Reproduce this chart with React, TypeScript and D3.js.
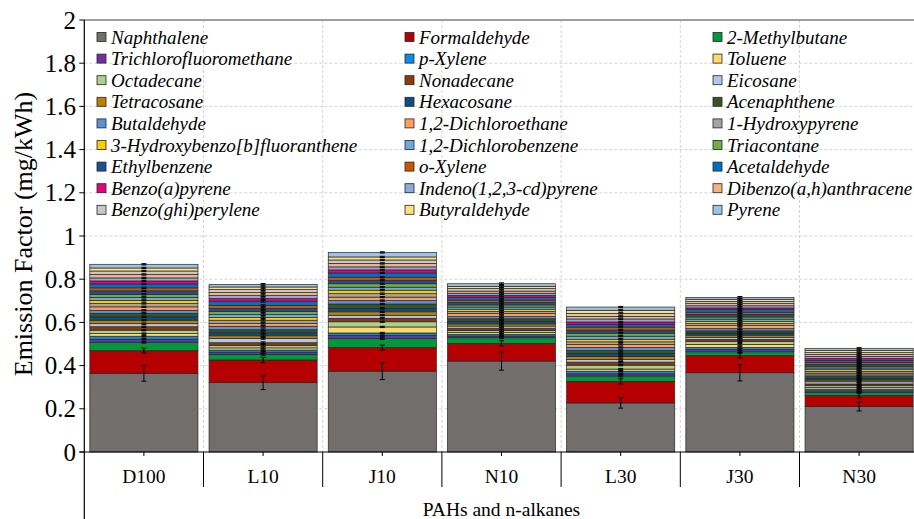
import React from "react";
import * as d3 from "d3";

const categories = ["D100", "L10", "J10", "N10", "L30", "J30", "N30"];
const groupLabel = "PAHs and n-alkanes";
const yTicks = [0, 0.2, 0.4, 0.6, 0.8, 1, 1.2, 1.4, 1.6, 1.8, 2];

const seriesNames = [
  "Naphthalene", "Formaldehyde", "2-Methylbutane",
  "Trichlorofluoromethane", "p-Xylene", "Toluene",
  "Octadecane", "Nonadecane", "Eicosane",
  "Tetracosane", "Hexacosane", "Acenaphthene",
  "Butaldehyde", "1,2-Dichloroethane", "1-Hydroxypyrene",
  "3-Hydroxybenzo[b]fluoranthene", "1,2-Dichlorobenzene", "Triacontane",
  "Ethylbenzene", "o-Xylene", "Acetaldehyde",
  "Benzo(a)pyrene", "Indeno(1,2,3-cd)pyrene", "Dibenzo(a,h)anthracene",
  "Benzo(ghi)perylene", "Butyraldehyde", "Pyrene",
];

const seriesColors = [
  "#736e6e", "#b40000", "#00993a",
  "#7030a0", "#0a8be6", "#ffd966",
  "#a9d08e", "#8b3a0e", "#b4c6e7",
  "#bf8000", "#0e4d7f", "#375623",
  "#5b8fd6", "#ff9e5e", "#a5a5a5",
  "#ffcc00", "#6caae0", "#70ad47",
  "#1f4e99", "#cc5500", "#0070c0",
  "#e6007e", "#8ea9db", "#f4b183",
  "#c8c8c8", "#ffe07a", "#9dc3e6",
];

// values per series for each category (D100, L10, J10, N10, L30, J30, N30)
const naphthalene = [0.364, 0.321, 0.374, 0.421, 0.227, 0.367, 0.210];
const formaldehyde = [0.105, 0.105, 0.109, 0.082, 0.100, 0.079, 0.052];
const methylbutane = [0.039, 0.026, 0.042, 0.026, 0.025, 0.018, 0.013];
const trichlorofluoromethane = [0.014, 0.010, 0.014, 0.008, 0.010, 0.010, 0.008];
const pXylene = [0.014, 0.010, 0.012, 0.008, 0.012, 0.010, 0.008];
const toluene = [0.012, 0.010, 0.028, 0.008, 0.010, 0.014, 0.008];
const octadecane = [0.016, 0.012, 0.024, 0.010, 0.018, 0.013, 0.008];
const nonadecane = [0.016, 0.012, 0.016, 0.010, 0.014, 0.010, 0.008];
const eicosane = [0.014, 0.020, 0.014, 0.010, 0.012, 0.010, 0.010];
const tetracosane = [0.016, 0.012, 0.016, 0.010, 0.014, 0.010, 0.008];
const hexacosane = [0.016, 0.014, 0.016, 0.012, 0.014, 0.010, 0.008];
const acenaphthene = [0.016, 0.014, 0.020, 0.012, 0.014, 0.010, 0.008];
const butaldehyde = [0.014, 0.016, 0.016, 0.010, 0.014, 0.010, 0.008];
const dichloroethane = [0.016, 0.014, 0.016, 0.014, 0.014, 0.014, 0.008];
const hydroxypyrene = [0.016, 0.014, 0.016, 0.010, 0.012, 0.010, 0.008];
const hydroxybenzofluoranthene = [0.014, 0.012, 0.016, 0.010, 0.012, 0.010, 0.008];
const dichlorobenzene = [0.014, 0.014, 0.014, 0.010, 0.014, 0.010, 0.008];
const triacontane = [0.014, 0.014, 0.016, 0.010, 0.014, 0.010, 0.008];
const ethylbenzene = [0.016, 0.014, 0.016, 0.012, 0.014, 0.012, 0.009];
const oXylene = [0.014, 0.014, 0.014, 0.010, 0.014, 0.010, 0.008];
const acetaldehyde = [0.018, 0.020, 0.020, 0.012, 0.012, 0.012, 0.009];
const benzoAPyrene = [0.014, 0.012, 0.014, 0.010, 0.012, 0.008, 0.010];
const indenoPyrene = [0.014, 0.014, 0.014, 0.010, 0.014, 0.010, 0.009];
const dibenzoAnthracene = [0.016, 0.014, 0.016, 0.010, 0.012, 0.010, 0.009];
const benzoGhiPerylene = [0.016, 0.014, 0.016, 0.012, 0.014, 0.010, 0.009];
const butyraldehyde = [0.014, 0.012, 0.014, 0.010, 0.014, 0.010, 0.010];
const pyrene = [0.017, 0.012, 0.021, 0.012, 0.015, 0.009, 0.010];

const seriesValues = [
  naphthalene, formaldehyde, methylbutane, trichlorofluoromethane, pXylene, toluene,
  octadecane, nonadecane, eicosane, tetracosane, hexacosane, acenaphthene,
  butaldehyde, dichloroethane, hydroxypyrene, hydroxybenzofluoranthene, dichlorobenzene, triacontane,
  ethylbenzene, oXylene, acetaldehyde, benzoAPyrene, indenoPyrene, dibenzoAnthracene,
  benzoGhiPerylene, butyraldehyde, pyrene,
];

// error bars (±)
const naphthaleneErr = [0.036, 0.032, 0.039, 0.042, 0.024, 0.038, 0.020];
const formaldehydeErr = [0.012, 0.012, 0.012, 0.012, 0.012, 0.012, 0.012];
const methylbutaneErr = [0.004, 0.004, 0.004, 0.004, 0.004, 0.004, 0.003];
const minorErr = [0.003, 0.004, 0.003, 0.004, 0.003, 0.004, 0.003];

const W = 914;
const H = 519;
const axisX = 84.3;
const plotTop = 20;
const plotBottom = 452;
const bandStep = 119.2;
const serif = "'Liberation Serif', 'Times New Roman', serif";

export default function App() {
  const x = d3
    .scaleBand<string>()
    .domain(categories)
    .range([axisX, axisX + bandStep * categories.length])
    .paddingInner(0.093)
    .paddingOuter(0.0465);
  const y = d3.scaleLinear().domain([0, 2]).range([plotBottom, plotTop]);

  const table = categories.map((c, ci) => {
    const row: any = { cat: c };
    seriesNames.forEach((s, si) => (row[s] = seriesValues[si][ci]));
    return row;
  });
  const stack = d3.stack<any>().keys(seriesNames)(table);

  const errFor = (si: number, ci: number) =>
    si === 0 ? naphthaleneErr[ci] : si === 1 ? formaldehydeErr[ci] : si === 2 ? methylbutaneErr[ci] : minorErr[ci];

  const bw = x.bandwidth();
  const bandEdges = categories.map((c) => (x(c) as number) - (x.step() * x.paddingInner()) / 2);
  const rightEdge = axisX + bandStep * categories.length;

  return (
    <svg width={W} height={H} style={{ position: "absolute", left: 0, top: 0, background: "#fff" }}>
      <rect x={0} y={0} width={W} height={H} fill="#fff" />
      {yTicks.slice(1, -1).map((t) => (
        <line key={"hg" + t} x1={axisX} x2={rightEdge} y1={y(t)} y2={y(t)} stroke="#d4d4d4" strokeWidth={1} strokeDasharray="3,2" />
      ))}
      {bandEdges.slice(1).map((bx, i) => (
        <line key={"vg" + i} x1={bx} x2={bx} y1={plotTop} y2={plotBottom} stroke="#d4d4d4" strokeWidth={1} strokeDasharray="3,2" />
      ))}
      <line x1={axisX} x2={rightEdge} y1={plotTop} y2={plotTop} stroke="#7f7f7f" strokeWidth={1.6} />

      {stack.map((layer, si) => (
        <g key={"s" + si}>
          {layer.map((d, ci) => (
            <rect key={ci} x={x(categories[ci])} y={y(d[1])} width={bw}
              height={Math.max(0, y(d[0]) - y(d[1]))} fill={seriesColors[si]} stroke="#262626" strokeWidth={0.7} />
          ))}
        </g>
      ))}
      {stack.map((layer, si) => (
        <g key={"e" + si}>
          {layer.map((d, ci) => {
            const cx = (x(categories[ci]) as number) + bw / 2;
            const e = errFor(si, ci);
            const y1 = y(d[1] + e);
            const y2 = y(d[1] - e);
            return (
              <g key={ci} stroke="#000" strokeWidth={1}>
                <line x1={cx} x2={cx} y1={y1} y2={y2} />
                <line x1={cx - 2.5} x2={cx + 2.5} y1={y1} y2={y1} />
                <line x1={cx - 2.5} x2={cx + 2.5} y1={y2} y2={y2} />
              </g>
            );
          })}
        </g>
      ))}

      <line x1={axisX} x2={axisX} y1={plotTop} y2={H} stroke="#000" strokeWidth={1.2} />
      {yTicks.map((t) => (
        <g key={"yt" + t}>
          <line x1={axisX - 5} x2={axisX} y1={y(t)} y2={y(t)} stroke="#000" strokeWidth={1} />
          <text x={76} y={y(t)} dy="0.34em" textAnchor="end" fontFamily={serif} fontSize={25} fill="#000">
            {d3.format("~g")(t)}
          </text>
        </g>
      ))}
      <text transform="translate(32,234) rotate(-90)" textAnchor="middle" fontFamily={serif} fontSize={26} fill="#000">
        Emission Factor (mg/kWh)
      </text>

      <line x1={axisX - 5} x2={rightEdge} y1={plotBottom} y2={plotBottom} stroke="#000" strokeWidth={1.2} />
      {categories.map((c) => {
        const cx = (x(c) as number) + bw / 2;
        return (
          <g key={"xt" + c}>
            <line x1={cx} x2={cx} y1={plotBottom} y2={plotBottom + 4} stroke="#000" strokeWidth={1} />
            <text x={cx} y={483} textAnchor="middle" fontFamily={serif} fontSize={19.5} fill="#000">
              {c}
            </text>
          </g>
        );
      })}
      {bandEdges.slice(1).map((bx, i) => (
        <line key={"sep" + i} x1={bx} x2={bx} y1={plotBottom} y2={487} stroke="#000" strokeWidth={1} />
      ))}
      <text x={(axisX + rightEdge) / 2} y={516} textAnchor="middle" fontFamily={serif} fontSize={19.5} fill="#000">
        {groupLabel}
      </text>

      {seriesNames.map((s, i) => {
        const col = i % 3;
        const row = Math.floor(i / 3);
        const sx = [97, 405, 713][col];
        const cy = 37 + row * 21.6;
        return (
          <g key={"lg" + i}>
            <rect x={sx} y={cy - 4.5} width={9} height={9} fill={seriesColors[i]} stroke="#262626" strokeWidth={0.8} />
            <text x={sx + 14} y={cy} dy="0.35em" fontFamily={serif} fontStyle="italic" fontSize={19} fill="#000">
              {s}
            </text>
          </g>
        );
      })}
    </svg>
  );
}
